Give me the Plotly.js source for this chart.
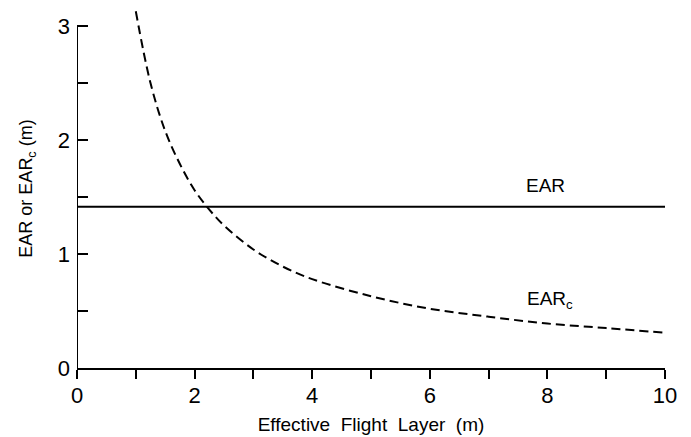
<!DOCTYPE html>
<html>
<head>
<meta charset="utf-8">
<script src="https://cdn.plot.ly/plotly-3.0.1.min.js"></script>
<style>html,body{margin:0;padding:0;background:#fff;}#chart{width:691px;height:437px;}</style>
</head>
<body>
<div id="chart"></div>
<script>
// Data
const earX = [0, 10];
const earY = [1.415, 1.415];
const earcX = [1.0, 1.25, 1.5, 1.75, 2.0, 2.25, 2.5, 3.0, 3.5, 4.0, 5.0, 6.0, 7.0, 8.0, 9.0, 10.0];
const earcY = [3.13, 2.50, 2.08, 1.79, 1.56, 1.39, 1.25, 1.04, 0.89, 0.78, 0.63, 0.52, 0.45, 0.39, 0.35, 0.31];
const labelEAR = "EAR";
const labelEARc = "EAR<sub>c</sub>";

const font = "Liberation Sans, Arial, sans-serif";

const traces = [
  {x: earX, y: earY, mode: "lines", line: {color: "#000", width: 2}, hoverinfo: "none"},
  {x: earcX, y: earcY, mode: "lines", line: {color: "#000", width: 2, dash: "9px,5px", shape: "spline"}, hoverinfo: "none"}
];

const layout = {
  width: 691, height: 437,
  margin: {l: 77, r: 26, t: 9, b: 69},
  paper_bgcolor: "#fff", plot_bgcolor: "#fff",
  showlegend: false,
  font: {family: font, color: "#000"},
  xaxis: {
    range: [0, 10], dtick: 2, tick0: 0,
    showgrid: false, zeroline: false,
    showline: true, linecolor: "#000", linewidth: 2,
    ticks: "outside", ticklen: 9, tickwidth: 2, tickcolor: "#000",
    minor: {dtick: 1, ticks: "outside", ticklen: 9, tickwidth: 2, tickcolor: "#000", showgrid: false},
    tickfont: {size: 22, family: font},
    ticklabelstandoff: -2,
    title: {text: "Effective\u00a0 Flight\u00a0 Layer\u00a0 (m)", font: {size: 19, family: font}, standoff: 10}
  },
  yaxis: {
    range: [0, 3.15], dtick: 1, tick0: 0,
    showgrid: false, zeroline: false, showline: false,
    ticks: "inside", ticklen: 11, tickwidth: 2, tickcolor: "#000",
    minor: {dtick: 0.5, ticks: "inside", ticklen: 11, tickwidth: 2, tickcolor: "#000", showgrid: false},
    tickfont: {size: 22, family: font},
    ticklabelstandoff: 6,
    title: {text: "EAR or EAR<sub>c</sub> (m)", font: {size: 18, family: font}, standoff: 20}
  },
  shapes: [
    {type: "line", xref: "x", yref: "y", x0: 0, x1: 0, y0: 0, y1: 3, line: {color: "#000", width: 2}}
  ],
  annotations: [
    {x: 7.97, y: 1.6, xref: "x", yref: "y", text: labelEAR, showarrow: false, font: {size: 19, family: font}},
    {x: 8.05, y: 0.6, xref: "x", yref: "y", text: labelEARc, showarrow: false, font: {size: 19, family: font}}
  ]
};

Plotly.newPlot("chart", traces, layout, {staticPlot: true, displayModeBar: false});
</script>
</body>
</html>
